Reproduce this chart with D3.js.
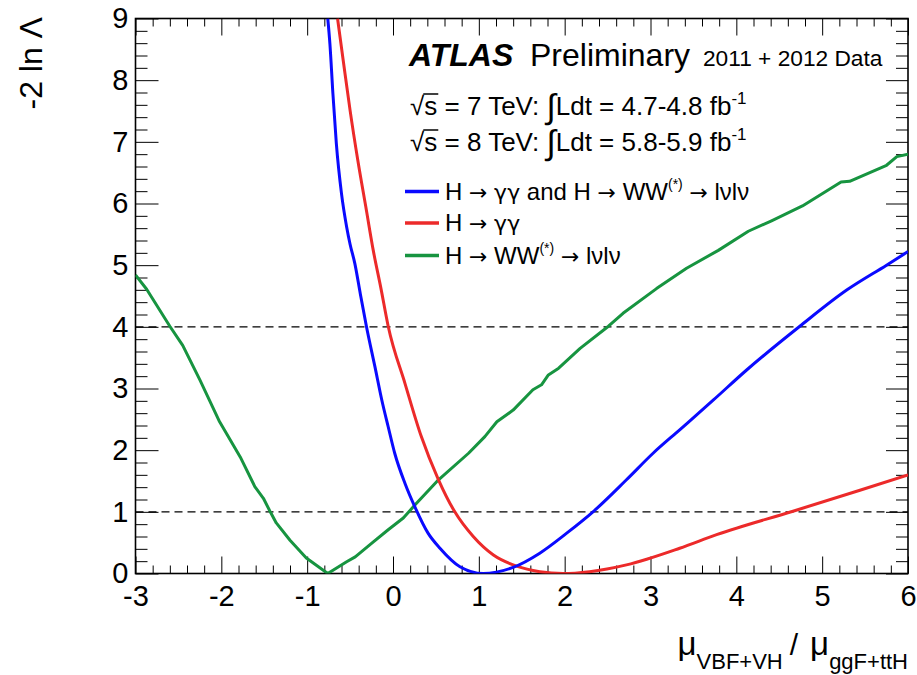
<!DOCTYPE html>
<html>
<head>
<meta charset="utf-8">
<script src="https://cdn.jsdelivr.net/npm/d3@7"></script>
<style>
  html, body { margin: 0; padding: 0; background: #fff; }
  svg text { font-family: "Liberation Sans", Arial, Helvetica, sans-serif; fill: #000; }
  svg tspan.sym { font-family: "DejaVu Sans", sans-serif; }
</style>
</head>
<body>
<svg id="chart" width="917" height="675"></svg>
<script>
// Profile likelihood scans of mu_VBF+VH / mu_ggF+ttH
// Combined H->gamgam + H->WW->lvlv
const combX = [-0.76, -0.735, -0.70, -0.66, -0.60, -0.54, -0.50, -0.445, -0.38, -0.31, -0.21, -0.13, -0.056, 0.02, 0.14, 0.255, 0.41, 0.547, 0.78, 1.05, 1.40, 1.71, 2.02, 2.33, 2.72, 3.03, 3.34, 3.73, 4.12, 4.74, 5.29, 5.75, 6.0];
const combY = [9.0, 8.59, 7.78, 6.97, 6.16, 5.62, 5.34, 5.03, 4.53, 4.01, 3.35, 2.81, 2.38, 1.95, 1.46, 1.08, 0.65, 0.41, 0.11, 0.0, 0.10, 0.33, 0.65, 1.00, 1.52, 1.95, 2.33, 2.81, 3.30, 4.01, 4.60, 5.00, 5.22];
// H->gamgam only
const gamX = [-0.646, -0.58, -0.50, -0.41, -0.31, -0.23, -0.14, -0.056, 0.14, 0.33, 0.53, 0.72, 0.935, 1.17, 1.44, 1.71, 1.98, 2.29, 2.72, 3.34, 3.77, 4.66, 5.44, 6.0];
const gamY = [9.0, 8.32, 7.51, 6.70, 5.89, 5.24, 4.62, 4.01, 3.08, 2.22, 1.52, 1.00, 0.60, 0.30, 0.12, 0.03, 0.0, 0.03, 0.14, 0.41, 0.63, 1.01, 1.35, 1.60];
// H->WW->lvlv only
const wwX = [-3.0, -2.87, -2.60, -2.45, -2.25, -2.02, -1.78, -1.61, -1.51, -1.43, -1.36, -1.20, -1.01, -0.76, -0.54, -0.44, -0.25, -0.056, 0.12, 0.255, 0.53, 0.88, 1.07, 1.21, 1.40, 1.63, 1.73, 1.81, 1.93, 2.18, 2.51, 2.68, 3.07, 3.42, 3.79, 4.14, 4.41, 4.77, 5.22, 5.32, 5.75, 5.87, 6.0];
const wwY = [4.84, 4.61, 4.01, 3.70, 3.14, 2.46, 1.89, 1.41, 1.22, 1.00, 0.82, 0.54, 0.25, 0.0, 0.19, 0.27, 0.49, 0.71, 0.90, 1.11, 1.52, 1.95, 2.22, 2.46, 2.65, 2.98, 3.06, 3.22, 3.33, 3.65, 4.01, 4.22, 4.62, 4.95, 5.24, 5.55, 5.72, 5.96, 6.35, 6.36, 6.62, 6.76, 6.80];

const xTicks = [-3, -2, -1, 0, 1, 2, 3, 4, 5, 6];
const yTicks = [0, 1, 2, 3, 4, 5, 6, 7, 8, 9];
const thresholds = [1, 4];
const energies = ["7", "8"];
const lumis = ["4.7-4.8", "5.8-5.9"];

const svg = d3.select("#chart");
svg.append("rect").attr("width", 917).attr("height", 675).attr("fill", "#fff");

const x = d3.scaleLinear().domain([-3, 6]).range([135.5, 908]);
const y = d3.scaleLinear().domain([0, 9]).range([573.5, 18.5]);

const minorX = d3.range(0, 46).filter(i => i % 5 !== 0).map(i => -3 + i * 0.2);
const minorY = d3.range(0, 46).filter(i => i % 5 !== 0).map(i => i * 0.2);

function clean(g) { g.select(".domain").remove(); g.attr("font-family", null); }

// bottom axis
svg.append("g").attr("transform", `translate(0,${y(0)})`)
  .call(d3.axisBottom(x).tickValues(minorX).tickSize(-8).tickFormat(""))
  .call(clean);
svg.append("g").attr("transform", `translate(0,${y(0)})`)
  .call(d3.axisBottom(x).tickValues(xTicks).tickSize(-17).tickPadding(12).tickFormat(d => String(d)))
  .call(clean).attr("font-size", 29);
// top axis
svg.append("g").attr("transform", `translate(0,${y(9)})`)
  .call(d3.axisTop(x).tickValues(minorX).tickSize(-8).tickFormat(""))
  .call(clean);
svg.append("g").attr("transform", `translate(0,${y(9)})`)
  .call(d3.axisTop(x).tickValues(xTicks).tickSize(-17).tickFormat(""))
  .call(clean);
// left axis
svg.append("g").attr("transform", `translate(${x(-3)},0)`)
  .call(d3.axisLeft(y).tickValues(minorY).tickSize(-12).tickFormat(""))
  .call(clean);
svg.append("g").attr("transform", `translate(${x(-3)},0)`)
  .call(d3.axisLeft(y).tickValues(yTicks).tickSize(-23).tickPadding(7).tickFormat(d => String(d)))
  .call(clean).attr("font-size", 29);
// right axis
svg.append("g").attr("transform", `translate(${x(6)},0)`)
  .call(d3.axisRight(y).tickValues(minorY).tickSize(-12).tickFormat(""))
  .call(clean);
svg.append("g").attr("transform", `translate(${x(6)},0)`)
  .call(d3.axisRight(y).tickValues(yTicks).tickSize(-22).tickFormat(""))
  .call(clean);

// frame
svg.append("rect")
  .attr("x", x(-3)).attr("y", y(9))
  .attr("width", x(6) - x(-3)).attr("height", y(0) - y(9))
  .attr("fill", "none").attr("stroke", "#000").attr("stroke-width", 1.6);

// 1 and 2 sigma reference lines
svg.selectAll("line.thr").data(thresholds).enter().append("line")
  .attr("class", "thr")
  .attr("x1", x(-3)).attr("x2", x(6))
  .attr("y1", d => y(d)).attr("y2", d => y(d))
  .attr("stroke", "#000").attr("stroke-width", 1.1).attr("stroke-dasharray", "8,5");

// curves
svg.append("clipPath").attr("id", "plotclip").append("rect")
  .attr("x", x(-3)).attr("y", y(9)).attr("width", x(6) - x(-3)).attr("height", y(0) - y(9));

const series = [
  { xs: wwX, ys: wwY, color: "#179440", curve: d3.curveLinear },
  { xs: gamX, ys: gamY, color: "#ec2a2a", curve: d3.curveMonotoneX },
  { xs: combX, ys: combY, color: "#0a0aff", curve: d3.curveMonotoneX }
];
const plot = svg.append("g").attr("clip-path", "url(#plotclip)");
series.forEach(s => {
  const pts = s.xs.map((v, i) => [v, s.ys[i]]);
  plot.append("path")
    .attr("d", d3.line().x(d => x(d[0])).y(d => y(d[1])).curve(s.curve)(pts))
    .attr("fill", "none").attr("stroke", s.color).attr("stroke-width", 3)
    .attr("stroke-linejoin", "round");
});

// axis titles
svg.append("text")
  .attr("transform", "translate(42,17) rotate(-90)")
  .attr("text-anchor", "end").attr("font-size", 32)
  .text("-2 ln Λ");

const xt = svg.append("text").attr("x", 908).attr("y", 655).attr("text-anchor", "end");
xt.append("tspan").attr("font-size", 33).text("μ");
xt.append("tspan").attr("font-size", 22).attr("dy", 14).text("VBF+VH");
xt.append("tspan").attr("font-size", 30).attr("dx", 7).attr("dy", -14).text("/");
xt.append("tspan").attr("font-size", 33).attr("dx", 12).text("μ");
xt.append("tspan").attr("font-size", 22).attr("dy", 14).text("ggF+ttH");

// ATLAS label
const at = svg.append("text").attr("y", 66);
at.append("tspan").attr("x", 409).attr("font-size", 32).attr("font-weight", "bold").attr("font-style", "italic").text("ATLAS");
at.append("tspan").attr("x", 530).attr("font-size", 32).text("Preliminary");
at.append("tspan").attr("x", 703).attr("font-size", 22.7).text("2011 + 2012 Data");

// luminosity lines
energies.forEach((e, i) => {
  const yb = 115 + i * 36;
  const t = svg.append("text").attr("x", 410).attr("y", yb).attr("font-size", 26);
  t.append("tspan").text("√");
  t.append("tspan").text("s");
  t.append("tspan").text(` = ${e} TeV: `);
  t.append("tspan").attr("font-size", 34).attr("dy", 3).text("∫");
  t.append("tspan").attr("dy", -3).text(`Ldt = ${lumis[i]} fb`);
  t.append("tspan").attr("font-size", 17).attr("dy", -11).text("-1");
  const n = t.node();
  const s0 = n.getStartPositionOfChar(1).x, s1 = n.getEndPositionOfChar(1).x;
  svg.append("line").attr("x1", s0 - 1).attr("x2", s1 + 1)
    .attr("y1", yb - 21).attr("y2", yb - 21)
    .attr("stroke", "#000").attr("stroke-width", 1.5);
});

// legend: parts are [text, kind] with kind 0 = plain, 1 = superscript, 2 = symbol glyph
const arrow = ["→", 2];
const legend = [
  { color: "#0a0aff", parts: [["H ", 0], arrow, [" ", 0], ["γγ", 2], [" and H ", 0], arrow, [" WW", 0], ["(*)", 1], [" ", 0], arrow, [" lνlν", 0]] },
  { color: "#ec2a2a", parts: [["H ", 0], arrow, [" ", 0], ["γγ", 2]] },
  { color: "#179440", parts: [["H ", 0], arrow, [" WW", 0], ["(*)", 1], [" ", 0], arrow, [" lνlν", 0]] }
];
const legY = [191.5, 223, 255.5];
legend.forEach((l, i) => {
  const cy = legY[i];
  svg.append("line").attr("x1", 405).attr("x2", 439).attr("y1", cy).attr("y2", cy)
    .attr("stroke", l.color).attr("stroke-width", 3.5);
  const t = svg.append("text").attr("x", 445).attr("y", cy + 8).attr("font-size", 24);
  let raised = false;
  l.parts.forEach(([s, kind]) => {
    const ts = t.append("tspan").text(s);
    if (kind === 1) { ts.attr("font-size", 14).attr("dy", -11); raised = true; }
    else {
      if (raised) { ts.attr("dy", 11); raised = false; }
      if (kind === 2) ts.attr("class", "sym").attr("font-size", 22);
    }
  });
});
</script>
</body>
</html>
